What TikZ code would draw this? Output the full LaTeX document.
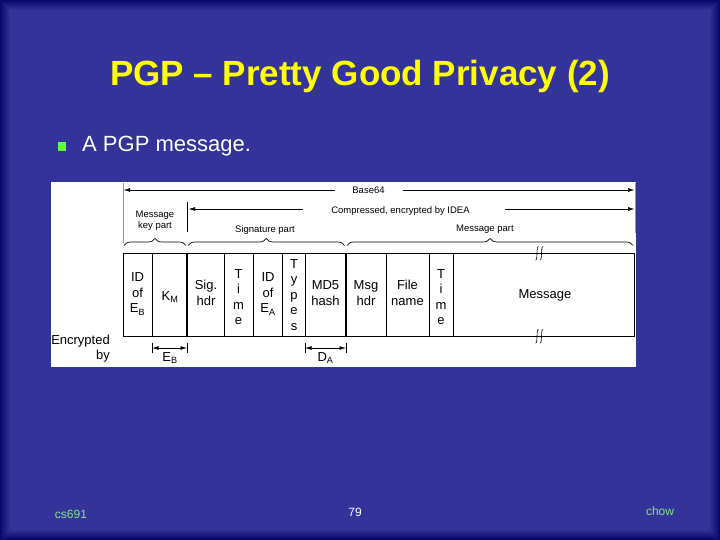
\documentclass[tikz,border=0pt]{standalone}
\usepackage{fontspec}
\setmainfont{Liberation Sans}
\usetikzlibrary{arrows.meta,decorations.pathreplacing}
\definecolor{slidebg}{RGB}{51,51,153}
\definecolor{slidedark}{RGB}{0,0,100}
\definecolor{titleyellow}{RGB}{255,255,0}
\definecolor{bulletgreen}{RGB}{102,255,51}
\definecolor{footgreen}{RGB}{130,230,130}
\definecolor{guidegrey}{RGB}{150,150,150}
\tikzset{
  titletext/.style={text=titleyellow,font=\fontsize{35}{40}\selectfont\bfseries,inner sep=0},
  bodytext/.style={text=white,font=\fontsize{22}{26}\selectfont,inner sep=0},
  foottext/.style={font=\fontsize{12}{14}\selectfont,inner sep=0},
  smalltext/.style={font=\fontsize{9.5}{11.5}\selectfont,inner sep=0,align=center},
  celltext/.style={font=\fontsize{13}{15.5}\selectfont,inner sep=0,align=center},
  arr/.style={-{Latex[length=6.5pt,width=3.8pt]},line width=0.6pt},
  dimarr/.style={{Latex[length=6.5pt,width=3.8pt]}-{Latex[length=6.5pt,width=3.8pt]},line width=0.6pt},
  guide/.style={draw=guidegrey,line width=0.8pt},
  thinline/.style={line width=0.7pt},
  thickline/.style={line width=2.6pt},
  bracestyle/.style={decorate,decoration={brace,amplitude=7pt},line width=0.7pt},
}
\begin{document}
\begin{tikzpicture}[x=1pt,y=-1pt]
\useasboundingbox (0,0) rectangle (720,540);
% background
\fill[slidebg] (0,0) rectangle (720,540);
\foreach \i in {0,...,9}
  \draw[slidedark,opacity={0.85-\i*0.085},line width=1pt] (\i+0.5,\i+0.5) rectangle (719.5-\i,539.5-\i);
% title and bullet
\node[titletext] (title) at (360,76) {PGP – Pretty Good Privacy (2)};
\node[fill=bulletgreen,minimum size=8.5,inner sep=0] (bullet) at (62,146.5) {};
\node[bodytext,anchor=west] (bodyline) at (82,146.5) {A PGP message.};
% footer
\node[foottext,text=footgreen] (footl) at (71,514) {cs691};
\node[foottext,text=white] (footc) at (355,512) {79};
\node[foottext,text=footgreen] (footr) at (660,511) {chow};
% white panel
\fill[white] (51,182) rectangle (636,367);
% guide lines
\coordinate (gl1) at (123,183); \coordinate (gl2) at (123,243);
\coordinate (gm1) at (187,202); \coordinate (gm2) at (187,232);
\coordinate (gr1) at (635,183); \coordinate (gr2) at (635,233);
\draw[guide] (gl1) -- (gl2);
\draw[thinline] (gm1) -- (gm2);
\draw[guide] (gr1) -- (gr2);
% Base64 arrow
\node[smalltext] (b64) at (368.5,190) {Base64};
\coordinate (b64L) at (123.5,190);
\coordinate (b64R) at (634.5,190);
\draw[arr] ([xshift=-17pt]b64.west |- b64L) -- (b64L);
\draw[arr] ([xshift=18pt]b64.east |- b64R) -- (b64R);
% Compressed arrow
\node[smalltext] (cmp) at (400.5,211.5) {Compressed, encrypted by IDEA};
\coordinate (cmpL) at (188.5,209);
\coordinate (cmpR) at (634.5,209);
\draw[arr] ([xshift=-28pt]cmp.west |- cmpL) -- (cmpL);
\draw[arr] ([xshift=35pt]cmp.east |- cmpR) -- (cmpR);
% part labels
\node[smalltext] (mkp) at (155,220.5) {Message\\key part};
\node[smalltext] (sigp) at (265,230) {Signature part};
\node[smalltext] (msgp) at (485,229.5) {Message part};
% braces
\draw[bracestyle] (124,245.5) -- (186,245.5);
\draw[bracestyle] (188,245.5) -- (344.5,245.5);
\draw[bracestyle] (347,245.5) -- (633,245.5);
% main box
\coordinate (tl) at (123,253); \coordinate (br) at (634,336);
\draw[thinline] (tl) rectangle (br);
\foreach \x in {152,224,253,282,305,386,429,453}
  \draw[thinline] (\x,253) -- (\x,336);
\draw[thickline] (187,253) -- (187,336);
\draw[thickline] (346,253) -- (346,336);
% break marks on message cell
\foreach \bx in {535.5,540} {
  \draw[line width=0.6pt] (\bx,260) .. controls (\bx+2.5,261) and (\bx+0.5,246) .. (\bx+3,246.5);
  \draw[line width=0.6pt] (\bx,343) .. controls (\bx+2.5,344) and (\bx+0.5,329) .. (\bx+3,329.5);
}
% cell texts
\node[celltext] (c1) at (137.5,294) {ID\\of\\E\textsubscript{B}};
\node[celltext] (c2) at (170,297) {K\textsubscript{M}};
\node[celltext] (c3) at (206,293) {Sig.\\hdr};
\node[celltext] (c4) at (238.5,297) {T\\i\\m\\e};
\node[celltext] (c5) at (268,294) {ID\\of\\E\textsubscript{A}};
\node[celltext] (c6) at (294,295) {T\\y\\p\\e\\s};
\node[celltext] (c7) at (325.5,293) {MD5\\hash};
\node[celltext] (c8) at (366,293) {Msg\\hdr};
\node[celltext] (c9) at (407.5,293) {File\\name};
\node[celltext] (c10) at (441,297) {T\\i\\m\\e};
\node[celltext] (c11) at (545,295) {Message};
% encrypted by
\node[celltext,anchor=east] (enc1) at (110,341) {Encrypted};
\node[celltext,anchor=east] (enc2) at (110,356) {by};
% dimension marks
\coordinate (eb1) at (152,348); \coordinate (eb2) at (187,348);
\coordinate (da1) at (305,348); \coordinate (da2) at (346,348);
\draw[thinline] (152,343) -- (152,353); \draw[thinline] (187,343) -- (187,353);
\draw[thinline] (305,343) -- (305,353); \draw[thinline] (346,343) -- (346,353);
\draw[dimarr] (eb1) -- (eb2);
\draw[dimarr] (da1) -- (da2);
\node[celltext] (eblab) at (170,358) {E\textsubscript{B}};
\node[celltext] (dalab) at (325.5,358) {D\textsubscript{A}};
\end{tikzpicture}
\end{document}
